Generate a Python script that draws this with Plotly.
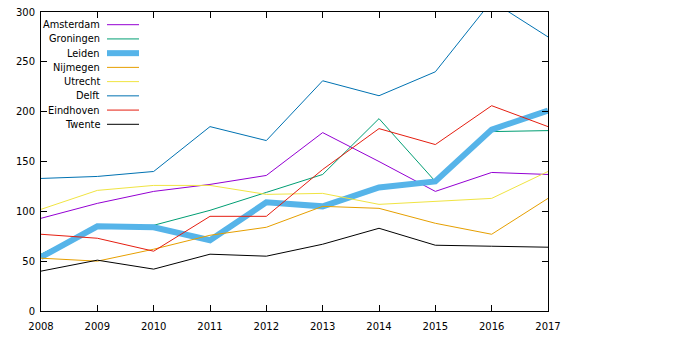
import plotly.graph_objects as go

years = [2008, 2009, 2010, 2011, 2012, 2013, 2014, 2015, 2016, 2017]
names = ["Amsterdam", "Groningen", "Leiden", "Nijmegen", "Utrecht", "Delft", "Eindhoven", "Twente"]
colors = ["#9400d3", "#009e73", "#56b4e9", "#e69f00", "#f0e442", "#0072b2", "#e51e10", "#000000"]
widths = [1, 1, 6, 1, 1, 1, 1, 1]

amsterdam = [93, 108, 120, 127, 136, 179, 150, 120, 139, 137]
groningen = [57, 85, 86, 101, 119, 137, 193, 130, 180, 181]
leiden = [54, 85, 84, 71, 109, 105, 124, 130, 182, 201]
nijmegen = [53, 50, 62, 76, 84, 105, 103, 88, 77, 113]
utrecht = [102, 121, 126, 126, 117, 118, 107, 110, 113, 140]
delft = [133, 135, 140, 185, 171, 231, 216, 240, 311, 275]
eindhoven = [77, 73, 60, 95, 95, 142, 183, 167, 206, 185]
twente = [40, 51, 42, 57, 55, 67, 83, 66, 65, 64]

series = [amsterdam, groningen, leiden, nijmegen, utrecht, delft, eindhoven, twente]

# pixel geometry of plot area
L, R, T, B = 41, 548, 12, 311
W, H = 700, 339

fig = go.Figure()
for n, c, w, s in zip(names, colors, widths, series):
    fig.add_trace(go.Scatter(x=years, y=s, mode="lines", name=n,
                             line=dict(color=c, width=w), showlegend=False))

# gnuplot-style legend (text right, sample line to the right)
annotations = []
shapes = []
row0 = 24.7
step = 14.23
for i, (n, c, w) in enumerate(zip(names, colors, widths)):
    py = row0 + i * step
    yp = (B - py) / (B - T)
    annotations.append(dict(text=n, x=(102 - L) / (R - L), y=yp, xref="paper", yref="paper",
                            xanchor="right", yanchor="middle", showarrow=False,
                            font=dict(family="DejaVu Sans", size=9.8, color="#000")))
    shapes.append(dict(type="line", xref="paper", yref="paper",
                       x0=(107 - L) / (R - L), x1=(139 - L) / (R - L), y0=yp, y1=yp,
                       line=dict(color=c, width=w)))

axis_common = dict(showgrid=False, zeroline=False, showline=True, linecolor="#000",
                   linewidth=1, mirror="allticks", ticks="inside", ticklen=6,
                   tickcolor="#000", tickwidth=1, automargin=False,
                   tickfont=dict(family="DejaVu Sans", size=10, color="#000"))

fig.update_layout(
    width=W, height=H,
    margin=dict(l=L, r=W - R, t=T, b=H - B),
    plot_bgcolor="white", paper_bgcolor="white",
    xaxis=dict(range=[2008, 2017], tickvals=years, ticktext=[str(y) for y in years],
               ticklabelstandoff=6, **axis_common),
    yaxis=dict(range=[0, 300], tickvals=[0, 50, 100, 150, 200, 250, 300],
               ticklabelstandoff=3, **axis_common),
    annotations=annotations, shapes=shapes,
)

fig.write_html("out.html")
